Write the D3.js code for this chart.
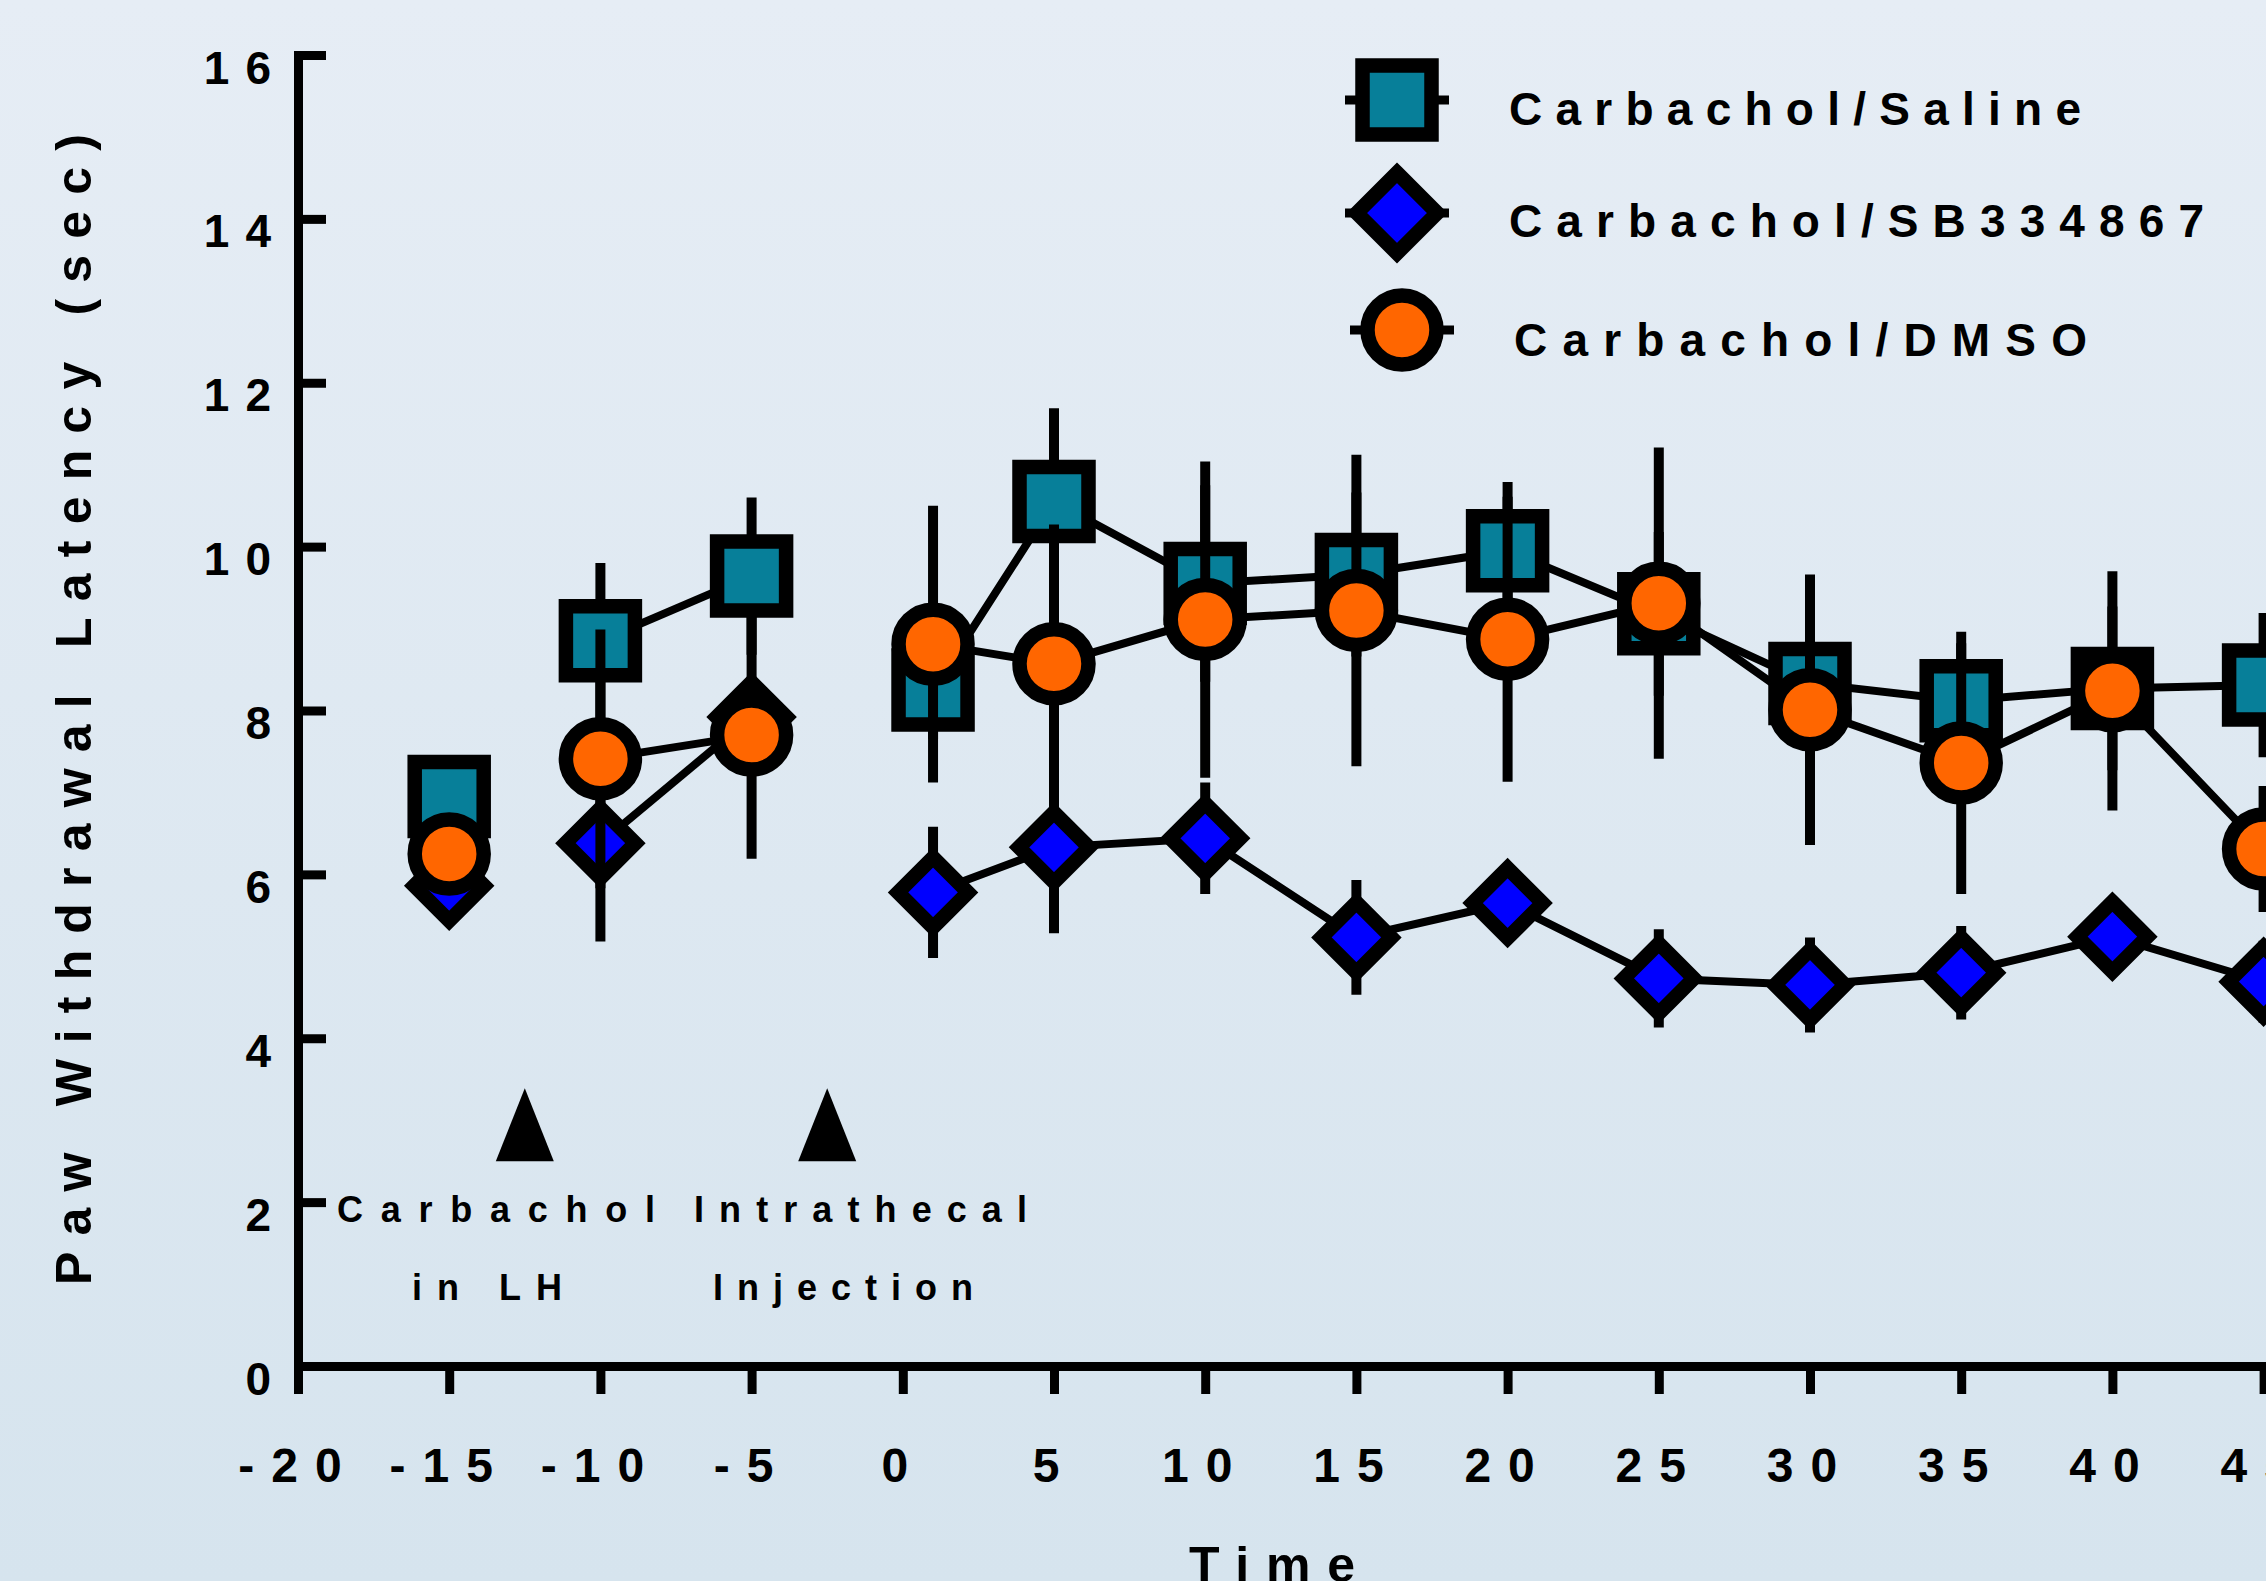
<html>
<head>
<meta charset="utf-8">
<script src="https://d3js.org/d3.v7.min.js"></script>
<style>
  body { margin: 0; }
  svg text { font-family: "Liberation Sans", Arial, sans-serif; font-weight: bold; fill: #000; }
  .axis .domain, .axis line { stroke: #000; stroke-width: 9; }
</style>
</head>
<body>
<svg id="chart" width="2266" height="1581"></svg>
<script>
// time points (min) and which connected run each point belongs to
const times = [-15, -10, -5, 1, 5, 10, 15, 20, 25, 30, 35, 40, 45];
const runs  = [0, 1, 1, 2, 2, 2, 2, 2, 2, 2, 2, 2, 2];

const salineMean = [6.95, 8.85, 9.64, 8.25, 10.55, 9.55, 9.66, 9.95, 9.18, 8.33, 8.12, 8.27, 8.31];
const salineSem  = [0.4, 0.95, 0.96, 0.6, 1.14, 1.2, 1.0, 0.84, 1.0, 0.9, 0.7, 1.0, 0.88];
const sbMean = [5.86, 6.38, 7.92, 5.78, 6.33, 6.44, 5.23, 5.65, 4.73, 4.65, 4.80, 5.24, 4.69];
const sbSem  = [0.3, 1.2, 0.4, 0.8, 1.05, 0.68, 0.7, 0.3, 0.6, 0.58, 0.57, 0.3, 0.5];
const dmsoMean = [6.25, 7.41, 7.70, 8.81, 8.57, 9.11, 9.22, 8.87, 9.31, 8.01, 7.36, 8.24, 6.31];
const dmsoSem  = [0.4, 1.58, 1.51, 1.69, 1.7, 1.93, 1.9, 1.74, 1.9, 1.65, 1.6, 1.46, 0.77];

const seriesNames = ["Carbachol/Saline", "Carbachol/SB334867", "Carbachol/DMSO"];
const seriesShapes = ["square", "diamond", "circle"];
const seriesColors = ["#077f99", "#0000ff", "#ff6600"];

const yTicks = [0, 2, 4, 6, 8, 10, 12, 14, 16];
const xTicks = [-20, -15, -10, -5, 0, 5, 10, 15, 20, 25, 30, 35, 40, 45];

const arrowTimes = [-12.5, -2.5];
const arrowLevel = 2.5;

const svg = d3.select("#chart");
const W = +svg.attr("width"), H = +svg.attr("height");

// background
const grad = svg.append("defs").append("linearGradient")
    .attr("id", "bg").attr("x1", 0).attr("y1", 0).attr("x2", 0).attr("y2", 1);
grad.append("stop").attr("offset", "0%").attr("stop-color", "#e6edf5");
grad.append("stop").attr("offset", "100%").attr("stop-color", "#d6e4ee");
svg.append("rect").attr("width", W).attr("height", H).attr("fill", "url(#bg)");

const x = d3.scaleLinear().domain([-20, 50]).range([298, 298 + 70 * 30.24]);
const y = d3.scaleLinear().domain([0, 16]).range([1366, 55]);

// axes (plain hyphen for negatives, like the original)
const xAxis = svg.append("g").attr("class", "axis")
    .attr("transform", `translate(0,${y(0)})`)
    .call(d3.axisBottom(x).tickValues(xTicks).tickFormat(d => String(d))
      .tickSize(28).tickSizeOuter(0).tickPadding(54));
xAxis.selectAll("text")
    .style("font-size", "48px").style("letter-spacing", "17px");

const yAxis = svg.append("g").attr("class", "axis")
    .attr("transform", `translate(${x(-20)},0)`)
    .call(d3.axisLeft(y).tickValues(yTicks).tickFormat(d => String(d))
      .tickSize(-28).tickSizeOuter(0).tickPadding(11));
yAxis.selectAll("text")
    .attr("dy", "28px")
    .style("font-size", "46px").style("letter-spacing", "16px");
yAxis.select(".domain").attr("stroke-linecap", "square");

// axis titles
svg.append("text")
    .attr("x", 1189).attr("y", 1582)
    .attr("textLength", 166).attr("lengthAdjust", "spacing")
    .style("font-size", "50px")
    .text("Time");

svg.append("text")
    .attr("transform", "translate(91,1285) rotate(-90)")
    .attr("textLength", 1151).attr("lengthAdjust", "spacing")
    .style("font-size", "50px")
    .text("Paw Withdrawal Latency (sec)");

// marker shapes
function markerPath(shape, big) {
  const s = big ? 1.15 : 1;
  if (shape === "square") { const h = 34.5; return `M${-h},${-h}H${h}V${h}H${-h}Z`; }
  if (shape === "diamond") { const a = 35 * s, b = 35 * s; return `M0,${-b}L${a},0L0,${b}L${-a},0Z`; }
  const r = 34.5;
  return `M${r},0A${r},${r} 0 1,1 ${-r},0A${r},${r} 0 1,1 ${r},0Z`;
}

const seriesData = [
  { mean: salineMean, sem: salineSem },
  { mean: sbMean, sem: sbSem },
  { mean: dmsoMean, sem: dmsoSem }
];

const lineGen = d3.line().x(d => x(d.t)).y(d => y(d.m));

seriesData.forEach((s, i) => {
  const pts = times.map((t, j) => ({ t: t, m: s.mean[j], e: s.sem[j], run: runs[j] }));
  const g = svg.append("g");
  const groups = d3.groups(pts, d => d.run);
  g.selectAll("path.line")
    .data(groups.filter(d => d[1].length > 1))
    .join("path").attr("class", "line")
    .attr("d", d => lineGen(d[1]))
    .attr("fill", "none").attr("stroke", "#000").attr("stroke-width", 8);
  g.selectAll("line.err")
    .data(pts)
    .join("line").attr("class", "err")
    .attr("x1", d => x(d.t)).attr("x2", d => x(d.t))
    .attr("y1", d => y(d.m - d.e)).attr("y2", d => y(d.m + d.e))
    .attr("stroke", "#000").attr("stroke-width", 10);
  g.selectAll("path.mark")
    .data(pts)
    .join("path").attr("class", "mark")
    .attr("transform", d => `translate(${x(d.t)},${y(d.m)})`)
    .attr("d", markerPath(seriesShapes[i], false))
    .attr("fill", seriesColors[i])
    .attr("stroke", "#000").attr("stroke-width", 14.5)
    .attr("stroke-linejoin", "miter");
});

// arrows and their labels
svg.selectAll("path.arrow")
  .data(arrowTimes)
  .join("path").attr("class", "arrow")
  .attr("d", t => `M${x(t) - 29},${y(arrowLevel)}L${x(t)},${y(arrowLevel) - 73}L${x(t) + 29},${y(arrowLevel)}Z`)
  .attr("fill", "#000");

const notes = [
  { text: "Carbachol", x: 337, y: 1222, w: 318 },
  { text: "in LH", x: 412, y: 1300, w: 150 },
  { text: "Intrathecal", x: 694, y: 1222, w: 333 },
  { text: "Injection", x: 713, y: 1300, w: 260 }
];
svg.selectAll("text.note")
  .data(notes)
  .join("text").attr("class", "note")
  .attr("x", d => d.x).attr("y", d => d.y)
  .attr("textLength", d => d.w).attr("lengthAdjust", "spacing")
  .style("font-size", "36px")
  .text(d => d.text);

// legend
const legendPos = [
  { cx: 1397, cy: 100, tx: 1509, ty: 125, w: 572 },
  { cx: 1397, cy: 213, tx: 1509, ty: 237, w: 695 },
  { cx: 1402, cy: 330, tx: 1514, ty: 356, w: 573 }
];
const legend = svg.append("g");
seriesNames.forEach((name, i) => {
  const p = legendPos[i];
  legend.append("line")
    .attr("x1", p.cx - 52).attr("x2", p.cx + 52)
    .attr("y1", p.cy).attr("y2", p.cy)
    .attr("stroke", "#000").attr("stroke-width", 9);
  legend.append("path")
    .attr("transform", `translate(${p.cx},${p.cy})`)
    .attr("d", markerPath(seriesShapes[i], true))
    .attr("fill", seriesColors[i])
    .attr("stroke", "#000").attr("stroke-width", 14.5);
  legend.append("text")
    .attr("x", p.tx).attr("y", p.ty)
    .attr("textLength", p.w).attr("lengthAdjust", "spacing")
    .style("font-size", "46px")
    .text(name);
});
</script>
</body>
</html>
